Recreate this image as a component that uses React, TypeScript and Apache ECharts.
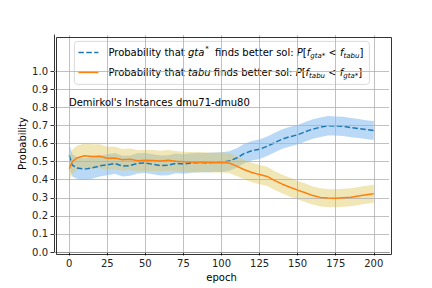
import React, { useEffect, useRef } from "react";
import * as echarts from "echarts";

const epochs = [0, 2, 5, 10, 15, 20, 25, 30, 35, 40, 45, 50, 55, 60, 65, 70, 75, 80, 85, 90, 95, 100, 105, 110, 115, 120, 125, 130, 135, 140, 145, 150, 155, 160, 165, 170, 175, 180, 185, 190, 195, 200];

const gtaMean = [0.535, 0.48, 0.465, 0.458, 0.465, 0.476, 0.482, 0.49, 0.475, 0.478, 0.49, 0.492, 0.485, 0.478, 0.48, 0.49, 0.487, 0.492, 0.495, 0.493, 0.496, 0.497, 0.503, 0.52, 0.545, 0.56, 0.568, 0.585, 0.605, 0.625, 0.638, 0.648, 0.665, 0.68, 0.69, 0.698, 0.697, 0.695, 0.688, 0.683, 0.677, 0.672];
const gtaStd = [0.065, 0.062, 0.06, 0.06, 0.06, 0.058, 0.058, 0.057, 0.057, 0.056, 0.056, 0.055, 0.055, 0.055, 0.055, 0.055, 0.054, 0.054, 0.054, 0.054, 0.054, 0.054, 0.054, 0.054, 0.054, 0.054, 0.054, 0.054, 0.054, 0.054, 0.054, 0.054, 0.054, 0.054, 0.054, 0.054, 0.053, 0.053, 0.053, 0.052, 0.052, 0.052];

const tabuMean = [0.46, 0.5, 0.52, 0.532, 0.528, 0.53, 0.518, 0.52, 0.51, 0.513, 0.505, 0.508, 0.506, 0.503, 0.507, 0.502, 0.499, 0.497, 0.495, 0.497, 0.494, 0.495, 0.492, 0.475, 0.455, 0.44, 0.428, 0.418, 0.395, 0.375, 0.358, 0.342, 0.328, 0.312, 0.302, 0.298, 0.297, 0.3, 0.303, 0.31, 0.317, 0.322];
const tabuStd = [0.065, 0.066, 0.068, 0.068, 0.068, 0.066, 0.064, 0.062, 0.06, 0.06, 0.058, 0.058, 0.058, 0.057, 0.057, 0.056, 0.056, 0.056, 0.056, 0.055, 0.055, 0.055, 0.055, 0.055, 0.054, 0.054, 0.053, 0.053, 0.052, 0.052, 0.052, 0.051, 0.051, 0.05, 0.05, 0.05, 0.05, 0.05, 0.05, 0.05, 0.05, 0.05];

const xTicks = [0, 25, 50, 75, 100, 125, 150, 175, 200];
const yTicks = [0, 0.1, 0.2, 0.3, 0.4, 0.5, 0.6, 0.7, 0.8, 0.9, 1.0];

const FONT = "DejaVu Sans";
const BLUE = "#1f77b4";
const ORANGE = "#ff7f0e";

function bandSeries(mean: number[], std: number[], color: string, z: number, extra: any = {}) {
  return {
    type: "custom",
    z,
    silent: true,
    data: epochs.map((e, i) => [e, mean[i]]),
    encode: { x: 0, y: 1 },
    renderItem: (params: any, api: any) => {
      if (params.dataIndex !== 0) return null;
      const pts: number[][] = [];
      for (let i = 0; i < epochs.length; i++) pts.push(api.coord([epochs[i], mean[i] + std[i]]));
      for (let i = epochs.length - 1; i >= 0; i--) pts.push(api.coord([epochs[i], mean[i] - std[i]]));
      return { type: "polygon", shape: { points: pts }, style: { fill: color } };
    },
    ...extra,
  };
}

export default function App() {
  const ref = useRef<HTMLDivElement>(null);
  useEffect(() => {
    if (!ref.current) return;
    const chart = echarts.init(ref.current, undefined, { renderer: "svg" });
    const gridLineStyle = { color: "#b0b0b0", width: 0.8, type: "solid" };
    const frameLine = { show: true, onZero: false, lineStyle: { color: "#000", width: 0.8 } };
    const option: any = {
      animation: false,
      textStyle: { fontFamily: FONT },
      grid: { left: 54, right: 43, top: 35, bottom: 36 },
      xAxis: {
        type: "value",
        min: -10,
        max: 210,
        name: "epoch",
        nameLocation: "middle",
        nameGap: 20,
        nameMoveOverlap: false,
        nameTextStyle: { fontFamily: FONT, fontSize: 10, color: "#000" },
        axisLine: frameLine,
        axisTick: { show: true, length: 3.5, customValues: xTicks, lineStyle: { color: "#000", width: 0.8 } },
        axisLabel: { customValues: xTicks, margin: 6, fontFamily: FONT, fontSize: 10, color: "#222", formatter: (v: number) => String(v) },
        splitLine: { show: false },
      },
      yAxis: {
        type: "value",
        min: 0,
        max: 1.2,
        name: "Probability",
        nameLocation: "middle",
        nameGap: 27,
        nameMoveOverlap: false,
        nameTextStyle: { fontFamily: FONT, fontSize: 10, color: "#000" },
        axisLine: frameLine,
        axisTick: { show: true, length: 3.5, customValues: yTicks, lineStyle: { color: "#000", width: 0.8 } },
        axisLabel: { customValues: yTicks, margin: 6, fontFamily: FONT, fontSize: 10, color: "#222", formatter: (v: number) => v.toFixed(1) },
        splitLine: { show: false },
      },
      series: [
        bandSeries(gtaMean, gtaStd, "rgba(130,185,238,0.55)", 1),
        bandSeries(tabuMean, tabuStd, "rgba(225,200,90,0.45)", 2, {
          markLine: {
            silent: true,
            symbol: "none",
            label: { show: false },
            lineStyle: gridLineStyle,
            data: [...yTicks.map((v) => ({ yAxis: v })), ...xTicks.map((v) => ({ xAxis: v }))],
          },
        }),
        {
          type: "line",
          z: 4,
          showSymbol: false,
          data: epochs.map((e, i) => [e, gtaMean[i]]),
          lineStyle: { color: BLUE, width: 1.5, type: [5.5, 2.4] },
          itemStyle: { color: BLUE },
        },
        {
          type: "line",
          z: 5,
          showSymbol: false,
          data: epochs.map((e, i) => [e, tabuMean[i]]),
          lineStyle: { color: ORANGE, width: 1.5 },
          itemStyle: { color: ORANGE },
        },
      ],
      graphic: [
        {
          type: "rect",
          left: 54,
          top: 35,
          z: 30,
          silent: true,
          shape: { x: 0, y: 0, width: 335, height: 217 },
          style: { fill: "none", stroke: "#000", lineWidth: 0.8 },
        },
        {
          type: "text",
          left: 69,
          top: 97,
          z: 10,
          style: { text: "Demirkol's Instances dmu71-dmu80", font: `10px "${FONT}"`, fill: "#000" },
        },
        {
          type: "group",
          left: 74,
          top: 41,
          z: 20,
          children: [
            { type: "rect", shape: { x: 0, y: 0, width: 295, height: 43, r: 3 }, style: { fill: "rgba(255,255,255,0.85)", stroke: "#d0d0d0", lineWidth: 0.8 } },
            { type: "line", shape: { x1: 4, y1: 11, x2: 24, y2: 11 }, style: { stroke: BLUE, lineWidth: 1.5, lineDash: [5.5, 2.4] } },
            { type: "line", shape: { x1: 4, y1: 31, x2: 24, y2: 31 }, style: { stroke: ORANGE, lineWidth: 1.5 } },
            {
              type: "text",
              x: 34,
              y: 11,
              style: {
                text: "Probability that {i|gta}{sup|*} finds better sol: {i|P}[{i|f}{sub|gta*} < {i|f}{sub|tabu}]",
                font: `10px "${FONT}"`,
                fill: "#000",
                verticalAlign: "middle",
                rich: {
                  i: { fontFamily: FONT, fontSize: 10, fontStyle: "italic", lineHeight: 14 },
                  sup: { fontFamily: FONT, fontSize: 7, verticalAlign: "top", lineHeight: 14, padding: [0, 3, 0, 1] },
                  sub: { fontFamily: FONT, fontSize: 7, fontStyle: "italic", verticalAlign: "bottom", lineHeight: 14 },
                },
              },
            },
            {
              type: "text",
              x: 34,
              y: 31,
              style: {
                text: "Probability that {i|tabu} finds better sol: {i|P}[{i|f}{sub|tabu} < {i|f}{sub|gta*}]",
                font: `10px "${FONT}"`,
                fill: "#000",
                verticalAlign: "middle",
                rich: {
                  i: { fontFamily: FONT, fontSize: 10, fontStyle: "italic", lineHeight: 14 },
                  sub: { fontFamily: FONT, fontSize: 7, fontStyle: "italic", verticalAlign: "bottom", lineHeight: 14 },
                },
              },
            },
          ],
        },
      ],
    };
    chart.setOption(option);
    return () => chart.dispose();
  }, []);
  return <div ref={ref} style={{ width: 432, height: 288, position: "absolute", left: 0, top: 0 }} />;
}
